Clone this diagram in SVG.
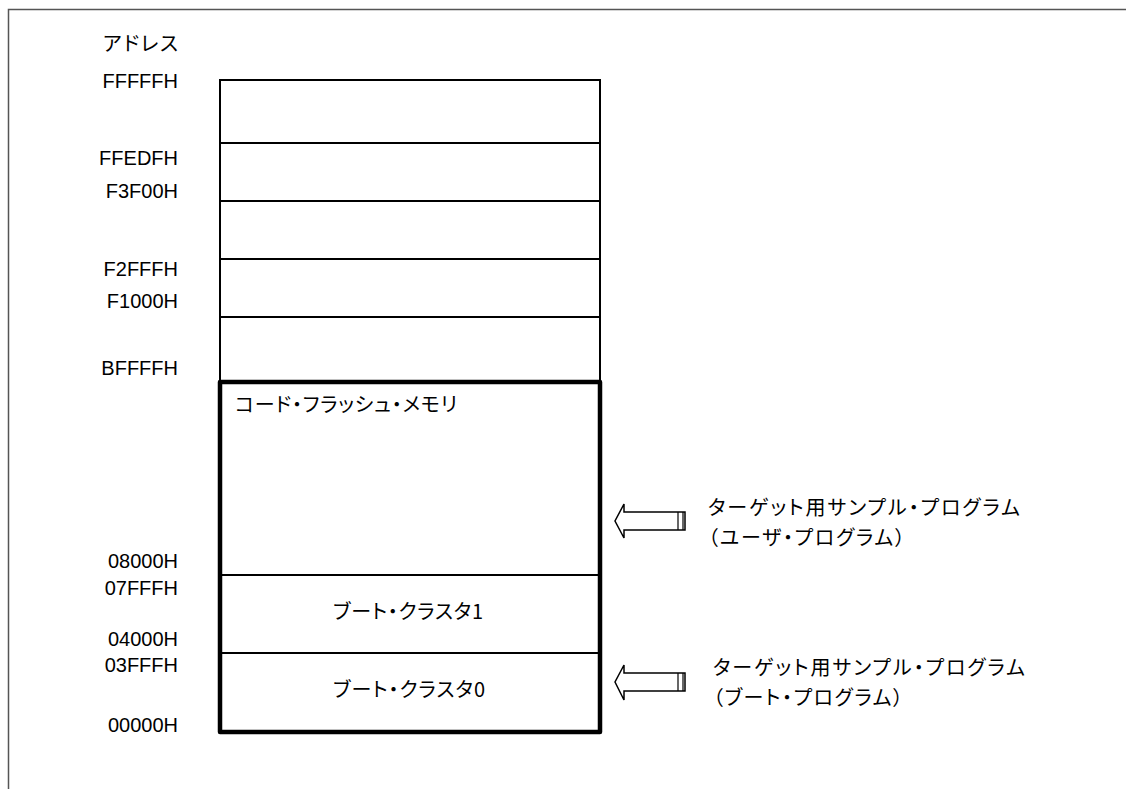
<svg xmlns="http://www.w3.org/2000/svg" width="1126" height="789" viewBox="0 0 1126 789">
<style>
.t{font-family:"Liberation Sans","Noto Sans CJK JP",sans-serif;font-size:20px;fill:#000}
.j{font-family:"Noto Sans CJK JP","Liberation Sans",sans-serif;font-size:20px;fill:#000;font-feature-settings:"palt"}
.thin{fill:none;stroke:#000;stroke-width:2}
.thick{fill:none;stroke:#000;stroke-width:4.5;stroke-linejoin:round}
.arr{fill:#fff;stroke:#000;stroke-width:1.5;stroke-linejoin:miter}
</style>
<rect width="1126" height="789" fill="#fff"/>
<g id="frame">
<path d="M8.5 789V9.5H1126" fill="none" stroke="#555" stroke-width="1.5"/>
</g>
<g id="labels">
<text class="j" x="103" y="51" textLength="75" lengthAdjust="spacing">アドレス</text>
<g text-anchor="end">
<text class="t" x="178" y="88">FFFFFH</text>
<text class="t" x="178" y="165">FFEDFH</text>
<text class="t" x="178" y="198">F3F00H</text>
<text class="t" x="178" y="276">F2FFFH</text>
<text class="t" x="178" y="308">F1000H</text>
<text class="t" x="178" y="375">BFFFFH</text>
<text class="t" x="178" y="568">08000H</text>
<text class="t" x="178" y="595">07FFFH</text>
<text class="t" x="178" y="646">04000H</text>
<text class="t" x="178" y="672">03FFFH</text>
<text class="t" x="178" y="732">00000H</text>
</g>
</g>
<g id="upper-area">
<rect class="thin" x="220" y="80" width="380" height="302"/>
<line class="thin" x1="220" y1="143" x2="600" y2="143"/>
<line class="thin" x1="220" y1="201" x2="600" y2="201"/>
<line class="thin" x1="220" y1="259" x2="600" y2="259"/>
<line class="thin" x1="220" y1="317" x2="600" y2="317"/>
</g>
<g id="code-flash">
<rect class="thick" x="220" y="382" width="380" height="350"/>
<text class="j" x="235" y="412" textLength="222" lengthAdjust="spacing">コード・フラッシュ・メモリ</text>
</g>
<g id="boot-cluster-1">
<line class="thin" x1="220" y1="575" x2="600" y2="575"/>
<text class="j" x="333" y="619" textLength="150" lengthAdjust="spacing">ブート・クラスタ1</text>
</g>
<g id="boot-cluster-0">
<line class="thin" x1="220" y1="653" x2="600" y2="653"/>
<text class="j" x="333" y="697" textLength="152" lengthAdjust="spacing">ブート・クラスタ0</text>
</g>
<g id="connectors">
<g id="arrow-user">
<path class="arr" d="M685 512H624V504L615 521L624 538V530H685Z"/>
<line x1="678" y1="512" x2="678" y2="530" stroke="#000" stroke-width="1.2"/>
<line x1="683" y1="512" x2="683" y2="530" stroke="#000" stroke-width="1.2"/>
</g>
<g id="arrow-boot">
<path class="arr" d="M685 673H624V665L615 682L624 700V691H685Z"/>
<line x1="678" y1="673" x2="678" y2="691" stroke="#000" stroke-width="1.2"/>
<line x1="683" y1="673" x2="683" y2="691" stroke="#000" stroke-width="1.2"/>
</g>
</g>
<g id="note-user">
<text class="j" x="708" y="515" textLength="312" lengthAdjust="spacing">ターゲット用サンプル・プログラム</text>
<text class="j" x="708" y="545" textLength="197" lengthAdjust="spacing">（ユーザ・プログラム）</text>
</g>
<g id="note-boot">
<text class="j" x="713" y="675" textLength="312" lengthAdjust="spacing">ターゲット用サンプル・プログラム</text>
<text class="j" x="713" y="705" textLength="190" lengthAdjust="spacing">（ブート・プログラム）</text>
</g>
</svg>
